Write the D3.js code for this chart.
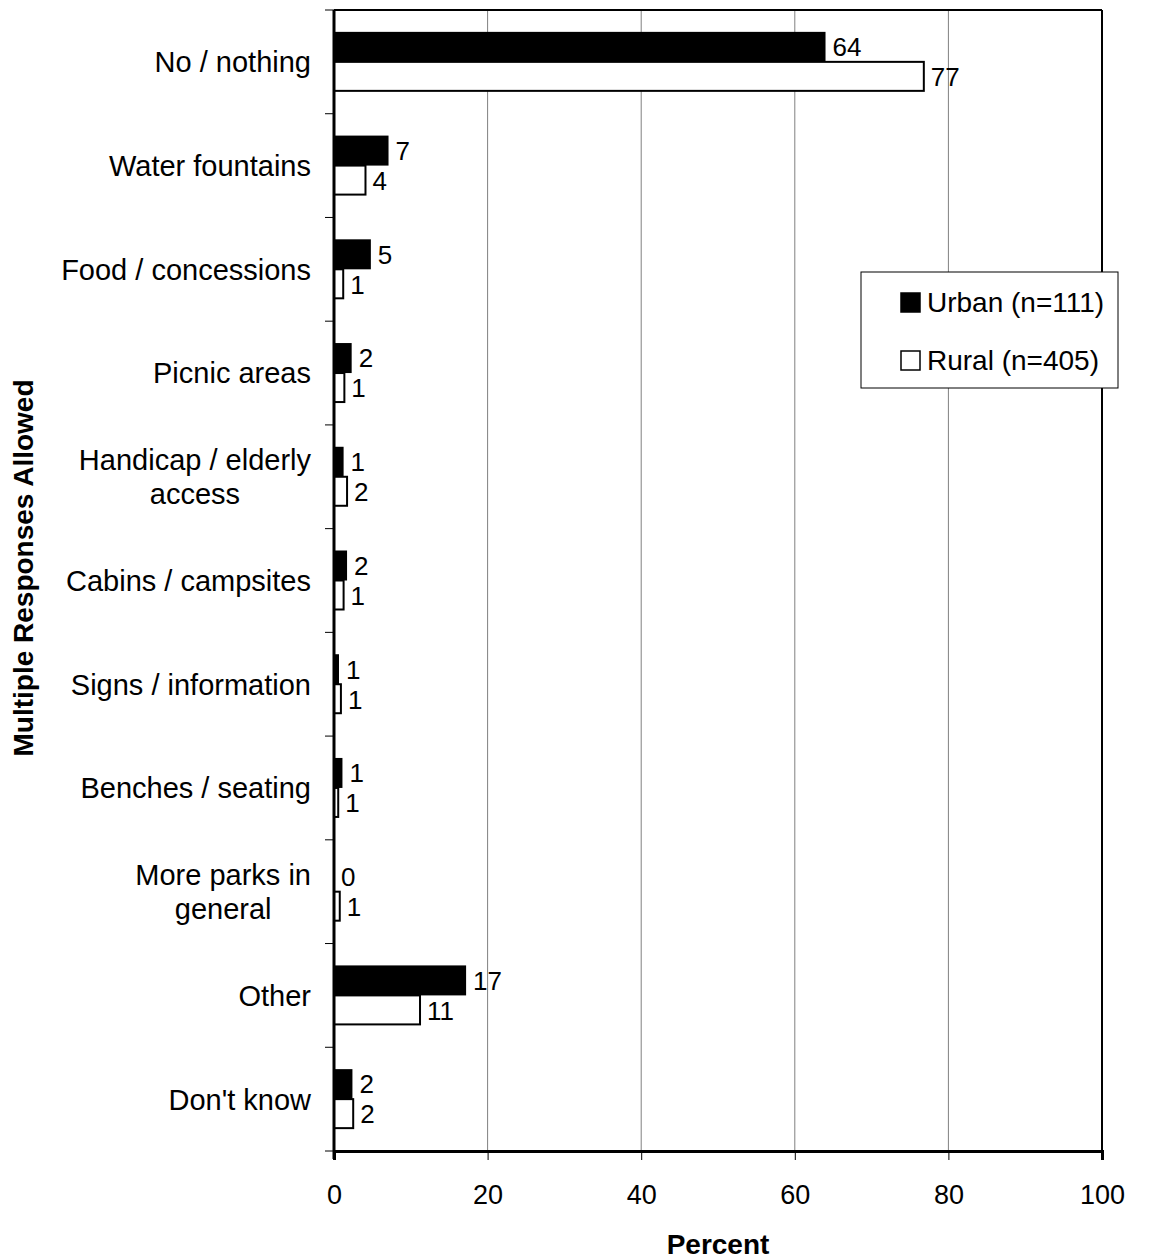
<!DOCTYPE html>
<html>
<head>
<meta charset="utf-8">
<script src="https://cdn.jsdelivr.net/npm/d3@7"></script>
<style>
body { margin: 0; background: #fff; }
svg { display: block; }
text { font-family: "Liberation Sans", Arial, sans-serif; fill: #000; }
</style>
</head>
<body>
<svg id="chart" width="1156" height="1260"></svg>
<script>
const categories = [
  "No / nothing",
  "Water fountains",
  "Food / concessions",
  "Picnic areas",
  "Handicap / elderly\naccess",
  "Cabins / campsites",
  "Signs / information",
  "Benches / seating",
  "More parks in\ngeneral",
  "Other",
  "Don't know"
];
const urbanValues = [64.0, 7.1, 4.8, 2.3, 1.25, 1.7, 0.65, 1.1, 0, 17.2, 2.4];
const ruralValues = [76.8, 4.1, 1.2, 1.35, 1.7, 1.25, 0.9, 0.55, 0.75, 11.2, 2.5];
const urbanLabels = ["64", "7", "5", "2", "1", "2", "1", "1", "0", "17", "2"];
const ruralLabels = ["77", "4", "1", "1", "2", "1", "1", "1", "1", "11", "2"];
const seriesNames = ["Urban (n=111)", "Rural (n=405)"];
const xTicks = [0, 20, 40, 60, 80, 100];

(function () {
const svg = d3.select("#chart");
const mLeft = 334, mRight = 1102, mTop = 10, mBottom = 1151;

const x = d3.scaleLinear().domain([0, 100]).range([mLeft, mRight]);
const y = d3.scaleBand().domain(categories).range([mTop, mBottom]).paddingInner(0).paddingOuter(0);

// gridlines
svg.append("g").selectAll("line")
  .data(xTicks.filter(d => d > 0 && d < 100))
  .join("line")
  .attr("x1", d => x(d)).attr("x2", d => x(d))
  .attr("y1", mTop).attr("y2", mBottom)
  .attr("stroke", "#808080").attr("stroke-width", 1);

// frame top & right
svg.append("line").attr("x1", mLeft).attr("x2", mRight).attr("y1", mTop).attr("y2", mTop)
  .attr("stroke", "#000").attr("stroke-width", 2);
svg.append("line").attr("x1", mRight).attr("x2", mRight).attr("y1", mTop).attr("y2", mBottom)
  .attr("stroke", "#000").attr("stroke-width", 2);

const barH = 30;
const bars = svg.append("g");
categories.forEach((c, i) => {
  const cy = y(c) + y.bandwidth() / 2;
  if (urbanValues[i] > 0) {
    bars.append("rect")
      .attr("x", x(0)).attr("y", cy - barH)
      .attr("width", x(urbanValues[i]) - x(0)).attr("height", barH)
      .attr("fill", "#000");
  }
  bars.append("rect")
    .attr("x", x(0)).attr("y", cy)
    .attr("width", x(ruralValues[i]) - x(0)).attr("height", barH - 1)
    .attr("fill", "#fff").attr("stroke", "#000").attr("stroke-width", 2);
  bars.append("text")
    .attr("x", x(urbanValues[i]) + 7).attr("y", cy - barH / 2)
    .attr("dy", "0.36em").attr("font-size", 26)
    .text(urbanLabels[i]);
  bars.append("text")
    .attr("x", x(ruralValues[i]) + 7).attr("y", cy + barH / 2)
    .attr("dy", "0.36em").attr("font-size", 26)
    .text(ruralLabels[i]);
});

// x axis
const xAxis = d3.axisBottom(x).tickValues(xTicks).tickSize(9).tickPadding(25).tickFormat(d3.format("d"));
const gx = svg.append("g").attr("transform", `translate(0,${mBottom})`).call(xAxis);
gx.select(".domain").attr("stroke", "#000").attr("stroke-width", 3);
gx.selectAll(".tick line").attr("stroke", "#000").attr("stroke-width", 1);
gx.selectAll(".tick text").attr("font-size", 27).attr("font-family", "Liberation Sans, Arial, sans-serif");

// y axis line & ticks at band boundaries
svg.append("line").attr("x1", mLeft).attr("x2", mLeft).attr("y1", mTop).attr("y2", mBottom + 8)
  .attr("stroke", "#000").attr("stroke-width", 3);
const boundaries = categories.map(c => y(c)).concat([mBottom]);
svg.append("g").selectAll("line").data(boundaries).join("line")
  .attr("x1", mLeft - 9).attr("x2", mLeft).attr("y1", d => d).attr("y2", d => d)
  .attr("stroke", "#000").attr("stroke-width", 1);

// category labels
const labX = 311;
categories.forEach(c => {
  const lines = c.split("\n");
  const cy = y(c) + y.bandwidth() / 2;
  const g = svg.append("g");
  const lineH = 34;
  const texts = lines.map((ln, j) => g.append("text")
    .attr("font-size", 29)
    .attr("y", cy + (j - (lines.length - 1) / 2) * lineH)
    .attr("dy", "0.36em")
    .text(ln));
  const widths = texts.map(t => t.node().getComputedTextLength());
  const maxW = d3.max(widths);
  const centerX = labX - maxW / 2;
  texts.forEach(t => t.attr("x", centerX).attr("text-anchor", "middle"));
});

// axis titles
svg.append("text").attr("x", (mLeft + mRight) / 2).attr("y", 1254)
  .attr("text-anchor", "middle").attr("font-size", 28).attr("font-weight", "bold")
  .text("Percent");
svg.append("text").attr("transform", "translate(33,568) rotate(-90)")
  .attr("text-anchor", "middle").attr("font-size", 28).attr("font-weight", "bold")
  .text("Multiple Responses Allowed");

// legend
const lg = svg.append("g");
lg.append("rect").attr("x", 861).attr("y", 272).attr("width", 257).attr("height", 116)
  .attr("fill", "#fff").attr("stroke", "#000").attr("stroke-width", 1);
const legendFills = ["#000", "#fff"];
seriesNames.forEach((s, i) => {
  const yy = 302 + i * 58;
  lg.append("rect").attr("x", 901).attr("y", yy - 9).attr("width", 19).attr("height", 19)
    .attr("fill", legendFills[i]).attr("stroke", "#000").attr("stroke-width", 1.5);
  lg.append("text").attr("x", 927).attr("y", yy).attr("dy", "0.36em")
    .attr("font-size", 28).text(s);
});
})();
</script>
</body>
</html>
